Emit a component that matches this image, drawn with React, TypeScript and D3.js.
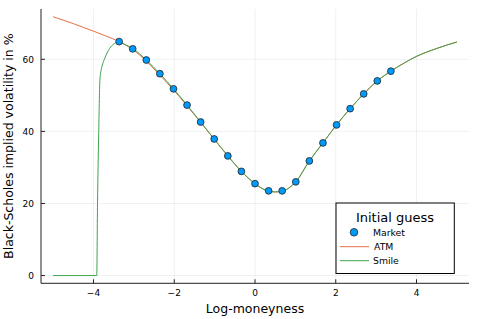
import React, { useEffect } from "react";
import * as d3 from "d3";

// market quotes (log-moneyness, implied vol in %)
const marketX = [
  -3.365, -3.029, -2.692, -2.356, -2.019, -1.683, -1.346, -1.01, -0.673, -0.337,
  0, 0.337, 0.673, 1.01, 1.346, 1.683, 2.019, 2.356, 2.692, 3.029, 3.365,
];
const marketY = [
  64.9, 62.9, 59.8, 56.0, 51.8, 47.3, 42.6, 37.9, 33.2, 28.9,
  25.5, 23.5, 23.5, 26.0, 31.8, 36.8, 41.8, 46.3, 50.4, 54.0, 56.7,
];

// ATM initial guess curve
const atmX = [
  -5, -4.5, -4, -3.7, -3.365, -3.029, -2.692, -2.356, -2.019, -1.683, -1.346, -1.01,
  -0.673, -0.337, 0, 0.17, 0.337, 0.5, 0.673, 0.84, 1.01, 1.346, 1.683, 2.019, 2.356,
  2.692, 3.029, 3.365, 3.7, 4.0, 4.5, 5,
];
const atmY = [
  71.8, 69.9, 67.8, 66.5, 64.9, 62.7, 59.5, 55.6, 51.5, 47.1, 42.5, 37.8,
  33.2, 28.9, 25.5, 24.2, 23.4, 23.2, 23.4, 24.3, 26.0, 31.8, 36.8, 41.8, 46.3,
  50.4, 54.0, 56.7, 59.0, 60.8, 63.0, 64.8,
];

// Smile initial guess curve
const smileX = [
  -5, -3.92, -3.9, -3.87, -3.84, -3.8, -3.73, -3.6, -3.5, -3.4, -3.3, -3.2, -3.029,
  -2.692, -2.356, -2.019, -1.683, -1.346, -1.01, -0.673, -0.337, 0, 0.17, 0.337, 0.5,
  0.673, 0.84, 1.01, 1.346, 1.683, 2.019, 2.356, 2.692, 3.029, 3.365, 3.7, 4.0, 4.5, 5,
];
const smileY = [
  0, 0, 20, 40, 54.5, 57.5, 60.0, 63.0, 64.2, 64.7, 64.5, 64.0, 63.0,
  59.8, 56.0, 51.8, 47.3, 42.6, 37.9, 33.2, 28.9, 25.5, 24.2, 23.4, 23.2,
  23.4, 24.3, 26.0, 31.8, 36.8, 41.8, 46.3, 50.4, 54.0, 56.7, 59.0, 60.8, 63.0, 64.8,
];

const xTicks = [-4, -2, 0, 2, 4];
const yTicks = [0, 20, 40, 60];

const W = 478;
const H = 319;
const left = 41;
const right = 469;
const top = 9;
const bottom = 283.3;

const BLUE = "#009afa";
const ORANGE = "#e36f47";
const GREEN = "#3ea44e";
const FONT = "DejaVu Sans, sans-serif";

export default function App() {
  useEffect(() => {
    document.body.style.margin = "0";
  }, []);

  const x = d3.scaleLinear().domain([-5.3, 5.3]).range([left, right]);
  const y = d3.scaleLinear().domain([-2.15, 73.95]).range([bottom, top]);

  const line = d3
    .line<[number, number]>()
    .x((d) => x(d[0]))
    .y((d) => y(d[1]))
    .curve(d3.curveMonotoneX);

  const atm = line(atmX.map((v, i) => [v, atmY[i]]));
  const smile = line(smileX.map((v, i) => [v, smileY[i]]));

  const lx = 336;
  const ly = 203;

  return (
    <svg
      width={W}
      height={H}
      style={{ position: "absolute", left: 0, top: 0, background: "#fff" }}
      fontFamily={FONT}
    >
      <rect width={W} height={H} fill="#fff" />
      {/* grid */}
      {xTicks.map((t) => (
        <line key={"gx" + t} x1={x(t)} x2={x(t)} y1={top} y2={bottom}
          stroke="#000" strokeOpacity={0.1} strokeWidth={0.6} />
      ))}
      {yTicks.map((t) => (
        <line key={"gy" + t} x1={left} x2={right} y1={y(t)} y2={y(t)}
          stroke="#000" strokeOpacity={0.1} strokeWidth={0.6} />
      ))}

      {/* series */}
      <path d={atm ?? ""} fill="none" stroke={ORANGE} strokeWidth={1} />
      <path d={smile ?? ""} fill="none" stroke={GREEN} strokeWidth={1} />
      {marketX.map((v, i) => (
        <circle key={"m" + i} cx={x(v)} cy={y(marketY[i])} r={3.4}
          fill={BLUE} stroke="#222" strokeWidth={0.8} />
      ))}

      {/* axes */}
      <line x1={left} x2={left} y1={top} y2={bottom} stroke="#222" strokeWidth={1} />
      <line x1={left} x2={right} y1={bottom} y2={bottom} stroke="#222" strokeWidth={1} />
      {xTicks.map((t) => (
        <g key={"tx" + t}>
          <line x1={x(t)} x2={x(t)} y1={bottom} y2={bottom - 4} stroke="#222" strokeWidth={1} />
          <text x={x(t)} y={bottom + 13} fontSize={9} textAnchor="middle" fill="#000">
            {t < 0 ? "\u2212" + Math.abs(t) : t}
          </text>
        </g>
      ))}
      {yTicks.map((t) => (
        <g key={"ty" + t}>
          <line x1={left} x2={left + 4} y1={y(t)} y2={y(t)} stroke="#222" strokeWidth={1} />
          <text x={left - 7} y={y(t) + 3.3} fontSize={9} textAnchor="end" fill="#000">
            {t}
          </text>
        </g>
      ))}
      <text x={(left + right) / 2} y={312.5} fontSize={12.5} textAnchor="middle" fill="#000">
        Log-moneyness
      </text>
      <text
        transform={`translate(13,${(top + bottom) / 2}) rotate(-90)`}
        fontSize={12.5}
        textAnchor="middle"
        fill="#000"
      >
        Black-Scholes implied volatility in %
      </text>

      {/* legend */}
      <rect x={lx} y={ly} width={118.3} height={70.5} fill="#fff" stroke="#000" strokeWidth={1} />
      <text x={lx + 59} y={ly + 18.5} fontSize={13} textAnchor="middle" fill="#000">
        Initial guess
      </text>
      <circle cx={lx + 18} cy={ly + 29.3} r={3.8} fill={BLUE} stroke="#222" strokeWidth={0.8} />
      <text x={lx + 37} y={ly + 32.6} fontSize={9.3} fill="#000">Market</text>
      <line x1={lx + 4} x2={lx + 33} y1={ly + 43.7} y2={ly + 43.7} stroke={ORANGE} strokeWidth={1} />
      <text x={lx + 38} y={ly + 47} fontSize={9.3} fill="#000">ATM</text>
      <line x1={lx + 4} x2={lx + 33} y1={ly + 57.7} y2={ly + 57.7} stroke={GREEN} strokeWidth={1} />
      <text x={lx + 37} y={ly + 61} fontSize={9.3} fill="#000">Smile</text>
    </svg>
  );
}
